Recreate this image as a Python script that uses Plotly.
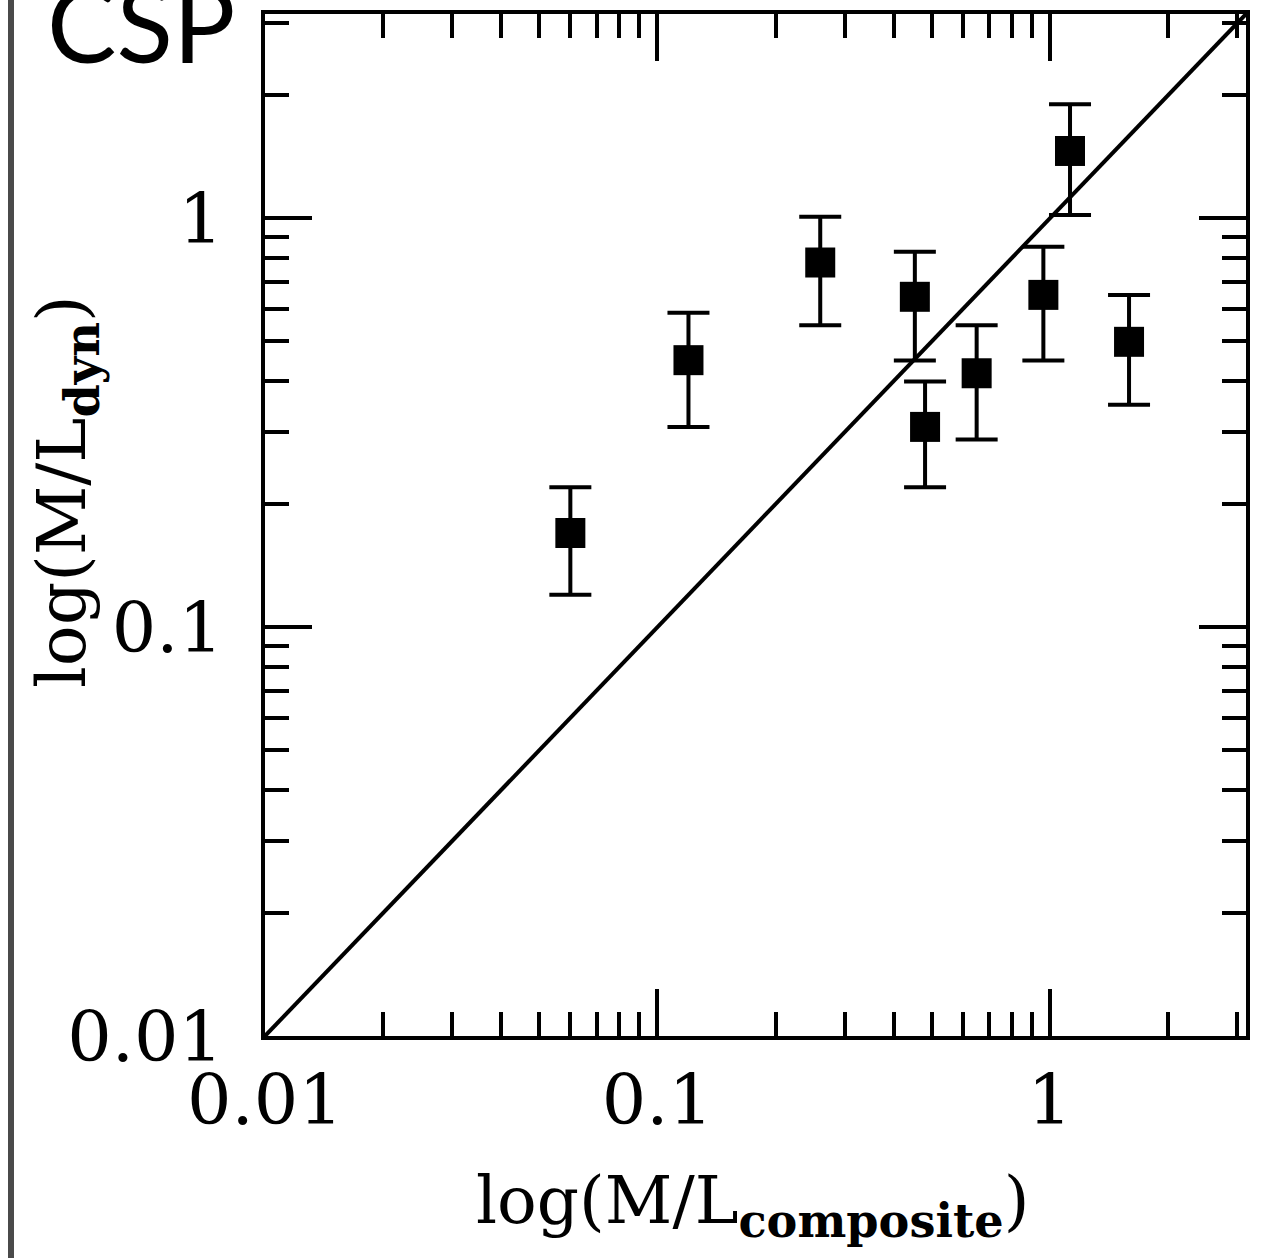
import plotly.graph_objects as go

# Data
ml_composite = [0.060, 0.120, 0.260, 0.453, 0.481, 0.651, 0.963, 1.126, 1.592]
ml_dyn       = [0.170, 0.450, 0.780, 0.643, 0.309, 0.418, 0.650, 1.462, 0.499]
ml_dyn_hi    = [0.220, 0.588, 1.010, 0.829, 0.399, 0.548, 0.853, 1.901, 0.650]
ml_dyn_lo    = [0.120, 0.309, 0.548, 0.449, 0.220, 0.288, 0.449, 1.019, 0.350]

one_to_one = [0.01, 10 ** 0.5]

major_vals = [0.01, 0.1, 1]
major_text = ["0.01", "0.1", "1"]

err_plus = [h - v for h, v in zip(ml_dyn_hi, ml_dyn)]
err_minus = [v - l for v, l in zip(ml_dyn, ml_dyn_lo)]

minor_vals = [m * d for d in (0.01, 0.1, 1) for m in range(2, 10) if m * d <= 10 ** 0.5]

L, R, T, B = 265, 16, 14, 222
W, H = 1262, 1258

fig = go.Figure()
fig.add_trace(go.Scatter(
    x=one_to_one, y=one_to_one, mode="lines",
    line=dict(color="black", width=4), hoverinfo="skip", showlegend=False,
))
fig.add_trace(go.Scatter(
    x=ml_composite, y=ml_dyn, mode="markers",
    marker=dict(symbol="square", size=30, color="black"),
    error_y=dict(type="data", array=err_plus, arrayminus=err_minus,
                 color="black", thickness=4, width=21, symmetric=False),
    showlegend=False,
))

serif = "DejaVu Serif"
axis_common = dict(
    type="log", range=[-2, 0.5],
    showline=True, linewidth=4, linecolor="black", mirror="allticks",
    ticks="inside", ticklen=47, tickwidth=3.5, tickcolor="black",
    tickvals=major_vals, ticktext=major_text,
    tickfont=dict(family=serif, size=70, color="black"),
    showgrid=False, zeroline=False,
    minor=dict(tickvals=minor_vals, ticks="inside", ticklen=24,
               tickwidth=3.5, tickcolor="black", showgrid=False),
)

fig.update_layout(
    width=W, height=H,
    margin=dict(l=L, r=R, t=T, b=B, autoexpand=False),
    paper_bgcolor="white", plot_bgcolor="white",
    xaxis=dict(**axis_common, ticklabelstandoff=0),
    yaxis=dict(**axis_common, ticklabelstandoff=24),
    showlegend=False,
)

pw = W - L - R
ph = H - T - B

def px_to_paper_x(px):
    return (px - L) / pw

def px_to_paper_y(py):
    return (H - B - py) / ph

fig.add_annotation(
    text="log(M/L<sub><b>composite</b></sub>)",
    xref="paper", yref="paper", x=px_to_paper_x(752), y=px_to_paper_y(1205),
    xanchor="center", yanchor="middle", showarrow=False,
    font=dict(family=serif, size=66, color="black"),
)
fig.add_annotation(
    text="log(M/L<sub><b>dyn</b></sub>)",
    xref="paper", yref="paper", x=px_to_paper_x(66), y=px_to_paper_y(492),
    xanchor="center", yanchor="middle", textangle=-90, showarrow=False,
    font=dict(family=serif, size=68, color="black"),
)
fig.add_annotation(
    text="CSP",
    xref="paper", yref="paper", x=px_to_paper_x(45), y=px_to_paper_y(22),
    xanchor="left", yanchor="middle", showarrow=False,
    font=dict(family="Lato", size=104, color="black"),
)
fig.add_shape(
    type="line", xref="paper", yref="paper",
    x0=px_to_paper_x(11), x1=px_to_paper_x(11),
    y0=px_to_paper_y(H + 5), y1=px_to_paper_y(-5),
    line=dict(color="#4a4a4a", width=6),
)

fig.write_html(
    "out.html",
    config={"displayModeBar": False},
    post_script="document.body.style.margin='0';document.documentElement.style.overflow='hidden';",
)
